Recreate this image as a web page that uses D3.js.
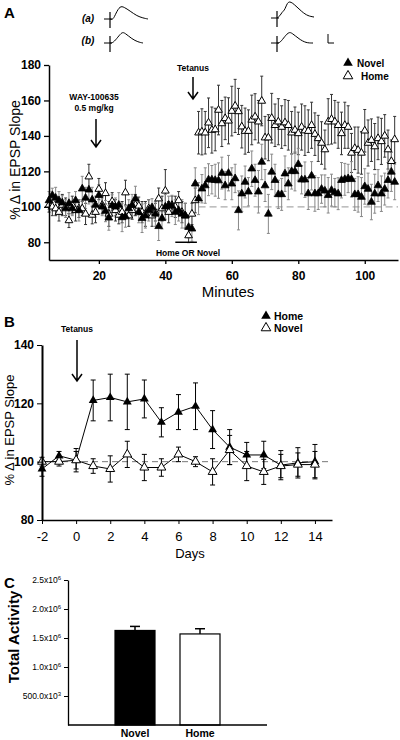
<!DOCTYPE html>
<html><head><meta charset="utf-8">
<script src="https://cdn.jsdelivr.net/npm/d3@7"></script>
<style>body{margin:0;background:#fff}svg{display:block;font-family:"Liberation Sans",Arial,sans-serif}</style>
</head><body><svg id="c" width="400" height="740"></svg>
<script>
// ---------- Panel A data ----------
const minutesA = [5,6,7,8,9,10,11,12,13,14,15,16,17,18,19,20,21,22,23,24,25,26,27,28,29,30,31,32,33,34,35,36,37,38,39,40,41,42,43,44,45,46,47,48,49,50,51,52,53,54,55,56,57,58,59,60,61,62,63,64,65,66,67,68,69,70,71,72,73,74,75,76,77,78,79,80,81,82,83,84,85,86,87,88,89,90,91,92,93,94,95,96,97,98,99,100,101,102,103,104,105,106,107,108,109];
const novelA = [103.6,106.5,105,103.6,102.3,99,102,99,103.6,98,110.2,105,109.6,104,101,106.5,100,97.6,93.8,100.8,100,101,94,94.5,99,101,104.6,97,93.5,95,98,99.6,96,89,93.5,100,101,100.5,97,98,96,95,88.5,87.6,113,
  104.6,110.2,112,115.3,115.3,115,114.8,119,112,119,113,116,98,107.4,114,108.5,121.5,115,108.5,125.3,112,96,119.7,115,107,107,118.7,113,120,120,124,115.3,115.3,107.5,117.5,107.5,107.5,110,109,106.5,109.4,108,107.4,115,115.5,116,115.5,107,107,105.5,111.5,110,102.7,107.4,112,107.4,110,115,119.7,114];
const novelErrA = [5,4,6,5,4,5,6,4,5,6,7,6,8,7,5,6,5,6,7,6,5,7,8,6,5,6,7,6,8,7,6,5,7,8,6,7,5,6,7,6,8,7,6,7,9,
  9,8,10,9,8,9,10,9,8,10,9,8,11,10,9,8,10,9,12,10,9,11,10,9,8,9,10,9,10,11,9,8,10,9,8,10,9,8,9,10,9,8,9,10,9,8,10,9,10,11,10,9,10,11,9,10,9,10,11,10];
const homeA = [101,100,99,97,101,100,92.3,101,98,99,99,96,117,95.4,97,110,101,107.6,96,103,98,95.4,97,108,95,98,101,100.5,97,96,99,95,97,104.6,99,109,97,101,100,103.6,97,95,83.8,96,103.6,
  141.8,142.3,141.8,147.4,143.3,143.6,154.6,147,149.9,148.5,154,156.9,153.8,145.2,142.7,142.7,149,150.8,148,159.7,139,139,150,146,148,145,147.5,146,141.8,143.3,141.4,145,143,142.7,146,141,138.6,136,132.3,148,149.4,148,146,141.4,146,145,130.4,133,132,130.4,142.9,136,137.6,134,138.6,136.9,140,132.3,125.7,138];
const homeErrA = [4,5,4,5,6,5,4,5,6,5,4,6,7,5,6,6,5,6,7,5,6,5,6,7,6,5,6,5,6,7,5,6,5,6,7,12,6,5,6,5,6,7,4,6,7,
  12,13,12,14,13,12,14,13,12,13,14,15,13,12,13,12,14,13,12,14,12,13,14,12,13,12,13,14,12,13,12,13,14,12,13,12,13,12,11,13,14,12,13,12,13,12,11,12,13,12,12,13,12,13,12,13,12,11,12,13];
const yTicksA = [80,100,120,140,160,180];
const xTicksA = [20,40,60,80,100];

// ---------- Panel B data ----------
const daysB = [-2,-1,0,1,2,3,4,5,6,7,8,9,10,11,12,13,14];
const homeB = [97.5,102,100.5,121,122,120.5,121.5,113.5,117,119,111,105,102.3,102.3,98.8,99.6,100];
const homeErrB = [2.5,1.5,3,7,8,9.5,6.5,5,6,8,6.5,6,4.3,4.7,5,5.2,5.9];
const novelB = [100,100,100.5,98.5,97.5,102.5,98,98,102.5,100,96.5,104,98.5,96.5,98.5,99,99];
const novelErrB = [1.5,1.5,4,2.5,4.5,4.5,4.5,3,2.5,1.7,4.5,5,5,4.3,4,4,4.5];
const yTicksB = [80,100,120,140];
const xTicksB = [-2,0,2,4,6,8,10,12,14];

// ---------- Panel C data ----------
const groupsC = ["Novel","Home"];
const activityC = [1.63e6,1.57e6];
const activityErrC = [0.07e6,0.09e6];
const yTicksC = [0.5e6,1.0e6,1.5e6,2.0e6,2.5e6];
const yTickLabelsC = [["500.0x10","3"],["1.0x10","6"],["1.5x10","6"],["2.0x10","6"],["2.5x10","6"]];

const svg = d3.select("#c");
const tri = s => d3.symbol(d3.symbolTriangle, s)();

// ===== Panel A =====
const xA = d3.scaleLinear([5,110],[49,398]);
const yA = d3.scaleLinear([70,180],[260,65]);
svg.append("text").attr("x",4).attr("y",18).attr("font-size",15).attr("font-weight","bold").text("A");

// illustration traces
const traceShapes = {
  a1: [[0,0],[3,1],[6,-6],[10,-13],[14,-12],[20,-8],[27,-3],[33,-1],[38,0]],
  b1: [[0,0],[3,0],[8,-6],[12,-11],[15,-10],[22,-4],[28,-1],[33,0]],
  a2: [[0,0],[3,-2],[5,-6],[8,-8],[11,-18],[17,-14],[25,-6],[31,-2],[37,-1]],
  b2: [[0,0],[3,0],[8,-7],[12,-11],[15,-10],[22,-4],[29,0],[36,0]]
};
const tl = d3.line().curve(d3.curveBasis);
function drawTrace(shape, x0, y0){
  const g = svg.append("g").attr("transform",`translate(${x0},${y0})`);
  g.append("path").attr("d", tl(shape)).attr("fill","none").attr("stroke","#000").attr("stroke-width",1);
  g.append("line").attr("x1",0).attr("x2",0).attr("y1",-7).attr("y2",9).attr("stroke","#000").attr("stroke-width",1.2);
  g.append("line").attr("x1",-6).attr("x2",2).attr("y1",0).attr("y2",0).attr("stroke","#000").attr("stroke-width",1);
}
drawTrace(traceShapes.a1,110,19);
drawTrace(traceShapes.b1,110,43);
drawTrace(traceShapes.a2,277,18);
drawTrace(traceShapes.b2,277,43);
svg.append("text").attr("x",88).attr("y",22).attr("font-size",10).attr("font-weight","bold").attr("font-style","italic").attr("text-anchor","middle").text("(a)");
svg.append("text").attr("x",88).attr("y",44).attr("font-size",10).attr("font-weight","bold").attr("font-style","italic").attr("text-anchor","middle").text("(b)");
svg.append("path").attr("d","M328,34V43H334").attr("fill","none").attr("stroke","#000").attr("stroke-width",1);

// dashed baseline
svg.append("line").attr("x1",xA(50)).attr("x2",xA(110)).attr("y1",yA(100)).attr("y2",yA(100))
  .attr("stroke","#aaa").attr("stroke-width",1.2).attr("stroke-dasharray","7,4");

// error bars
function errBars(g, xs, ys, es, xScale, yScale, color, cap){
  xs.forEach((m,i)=>{
    const x = xScale(m), y1 = yScale(ys[i]+es[i]), y2 = yScale(ys[i]-es[i]);
    g.append("line").attr("x1",x).attr("x2",x).attr("y1",y1).attr("y2",y2).attr("stroke",color).attr("stroke-width",1);
    g.append("line").attr("x1",x-cap).attr("x2",x+cap).attr("y1",y1).attr("y2",y1).attr("stroke",color).attr("stroke-width",1);
    g.append("line").attr("x1",x-cap).attr("x2",x+cap).attr("y1",y2).attr("y2",y2).attr("stroke",color).attr("stroke-width",1);
  });
}
const gA = svg.append("g");
errBars(gA, minutesA, homeA, homeErrA, xA, yA, "#333", 1.5);
errBars(gA, minutesA, novelA, novelErrA, xA, yA, "#888", 1.5);
minutesA.forEach((m,i)=>{
  gA.append("path").attr("d",tri(26)).attr("transform",`translate(${xA(m)},${yA(homeA[i])})`)
    .attr("fill","#fff").attr("stroke","#000").attr("stroke-width",1);
});
minutesA.forEach((m,i)=>{
  gA.append("path").attr("d",tri(26)).attr("transform",`translate(${xA(m)},${yA(novelA[i])})`)
    .attr("fill","#000").attr("stroke","#000").attr("stroke-width",0.8);
});

// axes A
const axA_y = svg.append("g").attr("transform",`translate(${xA(5)},0)`)
  .call(d3.axisLeft(yA).tickValues(yTicksA).tickSize(5).tickSizeOuter(0));
const axA_x = svg.append("g").attr("transform",`translate(0,${yA(70)})`)
  .call(d3.axisBottom(xA).tickValues(xTicksA).tickSize(4).tickSizeOuter(0));
[axA_y,axA_x].forEach(a=>{a.select(".domain").attr("stroke-width",1.5);a.selectAll(".tick line").attr("stroke-width",1.3);
  a.selectAll("text").attr("font-size",12).attr("font-weight","bold").attr("font-family","Liberation Sans, Arial");});
axA_x.selectAll("text").attr("dy","1.1em");
svg.append("text").attr("x",228).attr("y",297).attr("text-anchor","middle").attr("font-size",15).text("Minutes");
svg.append("text").attr("transform","translate(20,160) rotate(-90)").attr("text-anchor","middle").attr("font-size",14).text("% \u0394 in EPSP Slope");

// annotations A
svg.append("text").attr("x",94).attr("y",100).attr("text-anchor","middle").attr("font-size",8.5).attr("font-weight","bold").text("WAY-100635");
svg.append("text").attr("x",94).attr("y",111).attr("text-anchor","middle").attr("font-size",8.5).attr("font-weight","bold").text("0.5 mg/kg");
function arrow(x,y1,y2,w){
  svg.append("path").attr("d",`M${x},${y1}V${y2}M${x-w},${y2-w*1.4}L${x},${y2}L${x+w},${y2-w*1.4}`)
    .attr("fill","none").attr("stroke","#000").attr("stroke-width",1.5);
}
arrow(96,119,147,5);
svg.append("text").attr("x",193).attr("y",71).attr("text-anchor","middle").attr("font-size",8.5).attr("font-weight","bold").text("Tetanus");
arrow(193,77,99,5);
svg.append("line").attr("x1",xA(43)).attr("x2",xA(49.5)).attr("y1",yA(80)).attr("y2",yA(80)).attr("stroke","#000").attr("stroke-width",1.5);
svg.append("text").attr("x",188).attr("y",256).attr("text-anchor","middle").attr("font-size",8.5).attr("font-weight","bold").text("Home OR Novel");

// legend A
svg.append("path").attr("d",tri(40)).attr("transform","translate(348,63)").attr("fill","#000");
svg.append("text").attr("x",357).attr("y",67).attr("font-size",10).attr("font-weight","bold").text("Novel");
svg.append("path").attr("d",tri(40)).attr("transform","translate(348,76)").attr("fill","#fff").attr("stroke","#000");
svg.append("text").attr("x",361).attr("y",80).attr("font-size",10).attr("font-weight","bold").text("Home");

// ===== Panel B =====
const xB = d3.scaleLinear([-2,15],[42,332]);
const yB = d3.scaleLinear([80,140],[520,345]);
svg.append("text").attr("x",4).attr("y",327).attr("font-size",15).attr("font-weight","bold").text("B");
svg.append("line").attr("x1",xB(-2)).attr("x2",xB(15)).attr("y1",yB(100)).attr("y2",yB(100))
  .attr("stroke","#555").attr("stroke-width",0.8).attr("stroke-dasharray","6,4");
const gB = svg.append("g");
errBars(gB, daysB, homeB, homeErrB, xB, yB, "#000", 2.5);
errBars(gB, daysB, novelB, novelErrB, xB, yB, "#000", 2.5);
const lineB = (vals)=> d3.line().x((d,i)=>xB(daysB[i])).y(d=>yB(d))(vals);
gB.append("path").attr("d",lineB(homeB)).attr("fill","none").attr("stroke","#000").attr("stroke-width",1);
gB.append("path").attr("d",lineB(novelB)).attr("fill","none").attr("stroke","#000").attr("stroke-width",1);
daysB.forEach((d,i)=>{
  gB.append("path").attr("d",tri(34)).attr("transform",`translate(${xB(d)},${yB(homeB[i])})`).attr("fill","#000");
});
daysB.forEach((d,i)=>{
  gB.append("path").attr("d",tri(34)).attr("transform",`translate(${xB(d)},${yB(novelB[i])})`).attr("fill","#fff").attr("stroke","#000");
});
const axB_y = svg.append("g").attr("transform",`translate(${xB(-2)},0)`)
  .call(d3.axisLeft(yB).tickValues(yTicksB).tickSize(5).tickSizeOuter(0));
const axB_x = svg.append("g").attr("transform",`translate(0,${yB(80)})`)
  .call(d3.axisBottom(xB).tickValues(xTicksB).tickSize(4).tickSizeOuter(0).tickFormat(d => String(d)));
axB_y.select(".domain").attr("stroke-width",2);
axB_x.select(".domain").attr("stroke-width",1.5);
axB_y.selectAll("text").attr("font-size",12).attr("font-weight","bold").attr("font-family","Liberation Sans, Arial");
axB_x.selectAll("text").attr("font-size",13).attr("font-family","Liberation Sans, Arial").attr("dy","1.05em");
svg.append("text").attr("x",190).attr("y",558).attr("text-anchor","middle").attr("font-size",13).text("Days");
svg.append("text").attr("transform","translate(14,430) rotate(-90)").attr("text-anchor","middle").attr("font-size",13).text("% \u0394 in EPSP Slope");
svg.append("text").attr("x",77).attr("y",332).attr("text-anchor","middle").attr("font-size",8.5).attr("font-weight","bold").text("Tetanus");
arrow(77,340,381,5);
svg.append("path").attr("d",tri(40)).attr("transform","translate(266,316)").attr("fill","#000");
svg.append("text").attr("x",274).attr("y",320).attr("font-size",10.5).attr("font-weight","bold").text("Home");
svg.append("path").attr("d",tri(40)).attr("transform","translate(266,328)").attr("fill","#fff").attr("stroke","#000");
svg.append("text").attr("x",274).attr("y",332).attr("font-size",10.5).attr("font-weight","bold").text("Novel");

// ===== Panel C =====
const xC = d3.scaleBand(groupsC,[115,220]).paddingInner(25/65).paddingOuter(0);
const yC = d3.scaleLinear([0,2.5e6],[725,580]);
svg.append("text").attr("x",4).attr("y",588).attr("font-size",15).attr("font-weight","bold").text("C");
const gC = svg.append("g");
groupsC.forEach((g,i)=>{
  const x = xC(g), w = xC.bandwidth(), cx = x + w/2;
  const top = yC(activityC[i]), et = yC(activityC[i]+activityErrC[i]);
  gC.append("line").attr("x1",cx).attr("x2",cx).attr("y1",top).attr("y2",et).attr("stroke","#000").attr("stroke-width",1.5);
  gC.append("line").attr("x1",cx-5).attr("x2",cx+5).attr("y1",et).attr("y2",et).attr("stroke","#000").attr("stroke-width",1.5);
  gC.append("rect").attr("x",x).attr("y",top).attr("width",w).attr("height",yC(0)-top)
    .attr("fill", i===0?"#000":"#fff").attr("stroke","#000").attr("stroke-width",1.2);
  gC.append("text").attr("x",cx).attr("y",737).attr("text-anchor","middle").attr("font-size",10.5).attr("font-weight","bold").text(g);
});
const axC_y = svg.append("g").attr("transform","translate(68,0)")
  .call(d3.axisLeft(yC).tickValues(yTicksC).tickSize(4).tickSizeOuter(0).tickFormat(""));
axC_y.select(".domain").attr("stroke-width",1.3);
yTicksC.forEach((t,i)=>{
  const tx = svg.append("text").attr("x",61).attr("y",yC(t)+3).attr("text-anchor","end").attr("font-size",8.5);
  tx.append("tspan").text(yTickLabelsC[i][0]);
  tx.append("tspan").attr("dy",-3).attr("font-size",6).text(yTickLabelsC[i][1]);
});
svg.append("line").attr("x1",68).attr("x2",267).attr("y1",yC(0)).attr("y2",yC(0)).attr("stroke","#000").attr("stroke-width",1.3);
svg.append("text").attr("transform","translate(19,637) rotate(-90)").attr("text-anchor","middle").attr("font-size",15).attr("font-weight","bold").text("Total Activity");
</script></body></html>
